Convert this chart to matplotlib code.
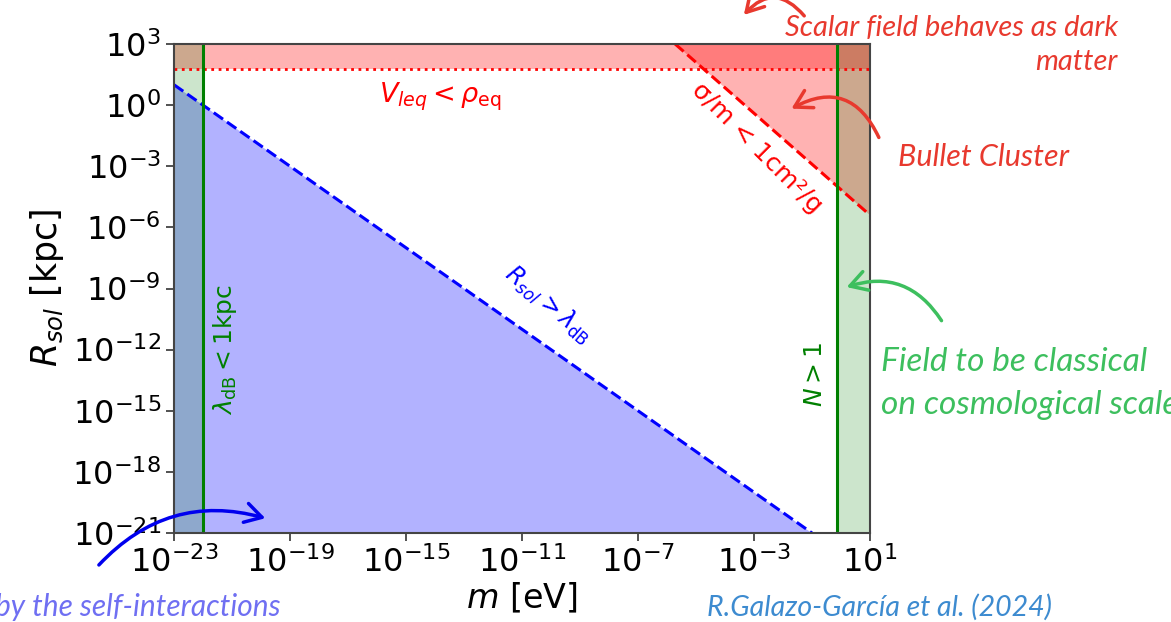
import numpy as np
import matplotlib
matplotlib.use("Agg")
import matplotlib.pyplot as plt
from matplotlib.patches import FancyArrowPatch

# --- constraint lines (m in eV, R_sol in kpc) ---
m_lo = 1e-22          # lambda_dB < 1 kpc
m_hi = 0.7            # N > 1
R_eq = 60.0           # V_leq < rho_eq

m_dB = [1e-23, 1e-1]              # R_sol = lambda_dB
R_dB = [1e1, 1e-21]

m_bc = [10**-5.72, 1e1]           # sigma/m = 1 cm^2/g (Bullet Cluster)
R_bc = [1e3, 10**-5.4]

xticks = [1e-23, 1e-19, 1e-15, 1e-11, 1e-7, 1e-3, 1e1]
yticks = [1e-21, 1e-18, 1e-15, 1e-12, 1e-9, 1e-6, 1e-3, 1e0, 1e3]

W, H = 1171, 622
fig = plt.figure(figsize=(W / 100, H / 100), dpi=100)
ax = fig.add_axes([174 / W, 1 - 533 / H, 696 / W, 489 / H])
ax.set_xscale("log")
ax.set_yscale("log")
ax.set_xlim(1e-23, 1e1)
ax.set_ylim(1e-21, 1e3)

# shaded regions
ax.fill_between(m_dB, 1e-21, R_dB, color="blue", alpha=0.3, lw=0)
ax.axhspan(R_eq, 1e3, color="red", alpha=0.3, lw=0)
ax.fill_between(m_bc, R_bc, 1e3, color="red", alpha=0.3, lw=0)
ax.axvspan(1e-23, m_lo, color="green", alpha=0.2, lw=0)
ax.axvspan(m_hi, 1e1, color="green", alpha=0.2, lw=0)

# boundaries
ax.plot(m_dB, R_dB, color="blue", ls="--", lw=2.2)
ax.plot(m_bc, R_bc, color="red", ls="--", lw=2.2)
ax.axhline(R_eq, color="red", ls=":", lw=2)
ax.axvline(m_lo, color="green", lw=2.2)
ax.axvline(m_hi, color="green", lw=2.2)

ax.text(10**-13.8, 10**0.4, r"$V_{leq} < \rho_{\rm eq}$", color="red",
        fontsize=19.5, ha="center", va="center")
ax.text(10**-2.9, 10**-2.1, "σ/m < 1cm²/g", color="red", fontsize=18,
        rotation=-45, ha="center", va="center")
ax.text(10**-10.1, 10**-9.8, r"$R_{sol} > \lambda_{\rm dB}$", color="blue",
        fontsize=17, rotation=-40, ha="center", va="center")
ax.text(10**-21.25, 10**-12.0, r"$\lambda_{\rm dB} < 1$kpc", color="green",
        fontsize=18, rotation=90, ha="center", va="center")
ax.text(10**-0.9, 10**-13.2, r"$N > 1$", color="green",
        fontsize=18, rotation=90, ha="center", va="center")

ax.set_xticks(xticks)
ax.set_yticks(yticks)
ax.minorticks_off()
ax.tick_params(labelsize=23, length=6, width=1.2, colors="#333333", labelcolor="black")
for s in ax.spines.values():
    s.set_color("#444444")
    s.set_linewidth(1.5)
ax.set_xlabel(r"$m$ [eV]", fontsize=24, labelpad=2)
ax.set_ylabel(r"$R_{sol}$ [kpc]", fontsize=25, labelpad=4)

# slide notes and arrows, drawn in pixel coordinates
ov = fig.add_axes([0, 0, 1, 1], zorder=10)
ov.set_xlim(0, W)
ov.set_ylim(H, 0)
ov.axis("off")
ov.patch.set_alpha(0)

red = "#e8392e"
green = "#3dbf5e"
note = dict(family="Lato", style="italic")

ov.text(1118, 28, "Scalar field behaves as dark", color=red, ha="right", va="center", fontsize=21, **note)
ov.text(1118, 62, "matter", color=red, ha="right", va="center", fontsize=21, **note)
ov.text(898, 157, "Bullet Cluster", color=red, ha="left", va="center", fontsize=22, **note)
ov.text(881, 362, "Field to be classical", color=green, ha="left", va="center", fontsize=24, **note)
ov.text(881, 405, "on cosmological scales", color=green, ha="left", va="center", fontsize=24, **note)
ov.text(281, 607, "by the self-interactions", color="#6f6ff2", ha="right", va="center", fontsize=21.5, **note)
ov.text(707, 607, "R.Galazo-García et al. (2024)", color="#3d8bd0", ha="left", va="center", fontsize=20.5, **note)

def curved(p0, p1, rad, color):
    a = FancyArrowPatch(p0, p1, connectionstyle=f"arc3,rad={rad}",
                        arrowstyle="->,head_length=0.6,head_width=0.35",
                        mutation_scale=20, lw=2.5, color=color)
    ov.add_patch(a)

curved((806, 18), (742, 17), 0.6, red)
curved((880, 140), (789, 110), 0.55, red)
curved((943, 323), (844, 288), 0.4, green)
curved((97, 567), (268, 519), -0.31, "#0000ee")

fig.savefig("out.png", dpi=100)
